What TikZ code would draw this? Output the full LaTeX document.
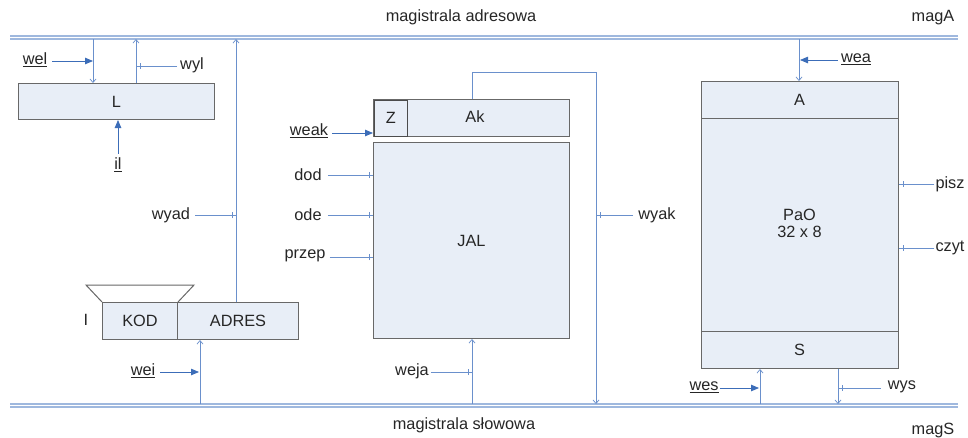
\documentclass[tikz,border=0pt]{standalone}
\usepackage{fontspec}
\setmainfont{Liberation Sans}
\usetikzlibrary{arrows.meta,decorations.markings}
\definecolor{ln}{HTML}{6A90CC}
\definecolor{bus}{HTML}{9FB8DE}
\definecolor{boxfill}{HTML}{E8EEF7}
\definecolor{boxdraw}{HTML}{686868}
\definecolor{arr}{HTML}{3C6DB8}
\begin{document}
\begin{tikzpicture}[x=1pt,y=-1pt,
  every node/.style={font=\fontsize{16.3}{18}\selectfont, text=black!85, inner sep=1pt},
  reg/.style={draw=boxdraw, fill=boxfill, line width=1pt, inner sep=0pt, anchor=north west},
  sig/.style={draw=ln, line width=0.8pt},
  busln/.style={draw=bus, line width=1.1pt},
  thin/.style={sig, -{Straight Barb[length=3.5pt,width=6pt,line width=0.7pt]}},
  ctl/.style={sig, -{Triangle[length=8pt,width=6.5pt]}, arr},
  tick/.style={sig, postaction={decorate, decoration={markings,
     mark=at position 1 with {\draw[ln, line width=0.7pt] (-4pt,-3pt) -- (-4pt,3pt);}}}}
]
\useasboundingbox (0,0) rectangle (968,437);
\fill[white] (0,0) rectangle (968,437);

% buses
\draw[busln] (10,36) -- (958,36);
\draw[busln] (10,39) -- (958,39);
\draw[busln] (10,404) -- (958,404);
\draw[busln] (10,407) -- (958,407);
\node (magA) at (461,17) {magistrala adresowa};
\node (magAs) at (933,18) {magA};
\node (magS) at (464,425) {magistrala słowowa};
\node (magSs) at (933,430) {magS};

% register L
\node[reg, minimum width=196pt, minimum height=36pt] (L) at (18,83) {};
\node at (L.center) {L};
\coordinate (Lin) at (93,39);
\coordinate (Lout) at (136,39);
\draw[thin] (Lin) -- (Lin |- L.north);
\draw[thin] (Lout |- L.north) -- (Lout);
\node (wel) at (35,60) {\underline{wel}};
\draw[ctl] (wel.east) ++(4,1) coordinate (welA) -- (welA -| Lin);
\node (wyl) at (192,65) {wyl};
\draw[tick] (wyl.west) ++(-2,1) coordinate (wylA) -- (wylA -| Lout);
\node (il) at (118,165) {\underline{il}};
\draw[ctl] (il.north) ++(0,-3) coordinate (ilA) -- (ilA |- L.south);

% register I
\node[reg, minimum width=75pt, minimum height=37pt] (KOD) at (102,302) {};
\node[reg, minimum width=121pt, minimum height=37pt] (ADRES) at (177,302) {};
\node at (KOD.center) {KOD};
\node at (ADRES.center) {ADRES};
\node (I) at (86,320) {I};
\draw[boxdraw, line width=1pt] (KOD.north west) -- (86,285) -- (194,285) -- (KOD.north east);
\coordinate (ad) at (236,39);
\draw[thin] (ad |- ADRES.north) -- (ad);
\node (wyad) at (171,215) {wyad};
\draw[tick] (wyad.east) ++(4,0) coordinate (wyadA) -- (wyadA -| ad);
\coordinate (wi) at (200,404);
\draw[thin] (wi) -- (wi |- ADRES.south);
\node (wei) at (143,371) {\underline{wei}};
\draw[ctl] (wei.east) ++(4,1) coordinate (weiA) -- ([xshift=-1pt]weiA -| wi);

% accumulator and ALU
\node[reg, minimum width=196pt, minimum height=37pt] (Ak) at (373,99) {};
\node at (475,117) {Ak};
\node[draw=black!70, fill=boxfill, line width=1.6pt, minimum width=33pt, minimum height=36pt, inner sep=0pt, anchor=north west] (Z) at (373.5,99.5) {Z};
\node[reg, minimum width=196pt, minimum height=196pt] (JAL) at (373,142) {};
\node at (JAL.center) {JAL};
\node (weak) at (309,131) {\underline{weak}};
\draw[ctl] (weak.east) ++(3,2) coordinate (weakA) -- (weakA -| Ak.west);
\node (dod) at (308,175) {dod};
\draw[tick] (dod.east) ++(5,0) coordinate (dodA) -- (dodA -| JAL.west);
\node (ode) at (308,215) {ode};
\draw[tick] (ode.east) ++(5,0) coordinate (odeA) -- (odeA -| JAL.west);
\node (przep) at (305,256) {przep};
\draw[tick] (przep.east) ++(3,1) coordinate (przA) -- (przA -| JAL.west);
\coordinate (akT) at (472,72);
\coordinate (akB) at (596,404);
\draw[thin] (akT |- Ak.north) -- (akT) -| (akB);
\node (wyak) at (657,215) {wyak};
\draw[tick] (wyak.west) ++(-4,0) coordinate (wyakA) -- (wyakA -| akB);
\coordinate (ja) at (472,404);
\draw[thin] (ja) -- (ja |- JAL.south);
\node (weja) at (412,371) {weja};
\draw[tick] (weja.east) ++(1,1) coordinate (wejaA) -- (wejaA -| ja);

% memory
\node[reg, minimum width=197pt, minimum height=287pt] (PaO) at (701,81) {};
\draw[boxdraw, line width=1pt] (701,118) -- (898,118);
\draw[boxdraw, line width=1pt] (701,331) -- (898,331);
\node at (799.5,100) {A};
\node[align=center] at (799.5,223) {PaO\\[-1pt]32 x 8};
\node at (799.5,350) {S};
\coordinate (ma) at (799,39);
\draw[thin] (ma) -- (ma |- PaO.north);
\node (wea) at (856,59) {\underline{wea}};
\draw[ctl] (wea.west) ++(-2,1) coordinate (weaA) -- ([xshift=1pt]weaA -| ma);
\node (pisz) at (950,184) {pisz};
\draw[tick] (pisz.west) coordinate (piszA) -- (piszA -| PaO.east);
\node (czyt) at (950,248) {czyt};
\draw[tick] (czyt.west) coordinate (czytA) -- (czytA -| PaO.east);
\coordinate (ws) at (760,404);
\draw[thin] (ws) -- (ws |- PaO.south);
\node (wes) at (704,387) {\underline{wes}};
\draw[ctl] (wes.east) ++(0,1) coordinate (wesA) -- ([xshift=-1pt]wesA -| ws);
\coordinate (ys) at (838,404);
\draw[thin] (ys |- PaO.south) -- (ys);
\node (wys) at (902,387) {wys};
\draw[tick] (wys.west) ++(-6,1) coordinate (wysA) -- (wysA -| ys);
\end{tikzpicture}
\end{document}
